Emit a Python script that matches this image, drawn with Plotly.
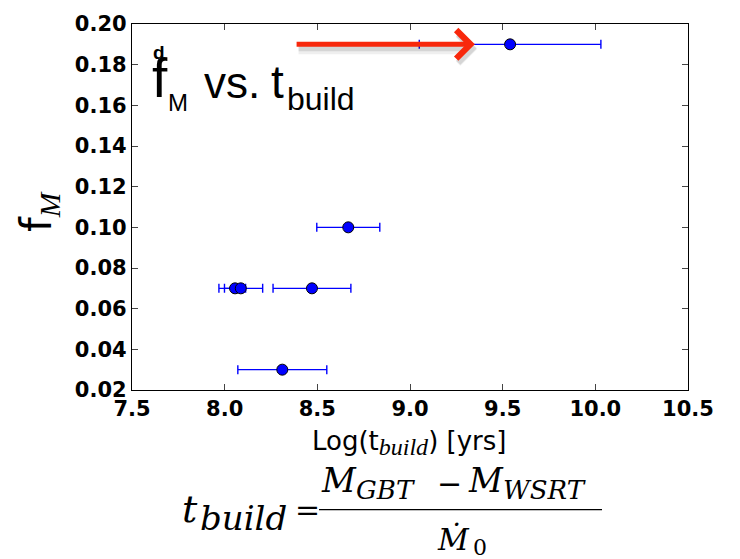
import plotly.graph_objects as go

# Build time (log years) with symmetric uncertainties, and the mass fraction f_M
log_t_build = [9.54, 8.667, 8.471, 8.056, 8.087, 8.311]
log_t_err = [0.49, 0.17, 0.21, 0.057, 0.118, 0.24]
f_M = [0.19, 0.10, 0.07, 0.07, 0.07, 0.03]

x_ticks = [7.5, 8.0, 8.5, 9.0, 9.5, 10.0, 10.5]
y_ticks = [0.02, 0.04, 0.06, 0.08, 0.10, 0.12, 0.14, 0.16, 0.18, 0.20]

# arrow pointing at the top point: tail and head on the x axis
arrow_tail_x = 8.38
arrow_head_x = 9.35
arrow_y = 0.19

W, H = 740, 559
L, R, T, B = 132, 688, 20, 390  # plot frame in pixels


def px(xp):
    return (xp - L) / (R - L)


def py(yp):
    return (B - yp) / (B - T)


fig = go.Figure()
fig.add_trace(go.Scatter(
    x=log_t_build, y=f_M, mode="markers",
    marker=dict(color="#0000ff", size=11, line=dict(color="black", width=1)),
    error_x=dict(type="data", array=log_t_err, symmetric=True,
                 color="#0000ff", thickness=1.4, width=4.5),
    showlegend=False,
))

ann = []


def text_at(txt, x, baseline, size, family="Liberation Sans",
            style="normal", weight="normal", anchor="left", k=0.47):
    ann.append(dict(
        text=txt, xref="paper", yref="paper", showarrow=False,
        x=px(x), y=py(baseline - k * size),
        xanchor=anchor, yanchor="middle", borderpad=0,
        font=dict(family=family, size=size, color="black",
                  style=style, weight=weight),
    ))


# panel title
text_at("d", 152, 58, 19, weight="bold")
text_at("f", 151, 100, 55)
text_at("M", 167, 111, 24)
text_at("vs.", 203, 100, 44)
text_at("t", 270, 100, 46)
text_at("build", 286, 111, 32)

# y axis title
ann.append(dict(
    text='f<sub><span style="font-family:\'Liberation Serif\';font-style:italic">M</span></sub>',
    xref="paper", yref="paper", showarrow=False,
    x=px(39), y=py(210), xanchor="center", yanchor="middle", textangle=-90,
    font=dict(family="DejaVu Sans", size=42, color="black"),
))

# x axis title
ann.append(dict(
    text='Log(t<sub><span style="font-family:\'Liberation Serif\';font-style:italic;font-size:24px">build</span></sub>) [yrs]',
    xref="paper", yref="paper", showarrow=False,
    x=px(409), y=py(444), xanchor="center", yanchor="middle",
    font=dict(family="DejaVu Sans", size=26, color="black"),
))

# definition of t_build
serif = "DejaVu Serif"
text_at("t", 190, 528, 38, family=serif, style="italic", anchor="center")
text_at("build", 243, 535, 34, family=serif, style="italic", anchor="center")
text_at("=", 307, 525, 30, family=serif, anchor="center")
text_at("M", 339, 497, 33, family=serif, style="italic", anchor="center")
text_at("GBT", 355, 503, 26, family=serif, style="italic")
text_at("\u2212", 449, 499, 30, family=serif, anchor="center")
text_at("M", 486, 497, 33, family=serif, style="italic", anchor="center")
text_at("WSRT", 502, 503, 26, family=serif, style="italic")
text_at("\u1e40", 453, 555, 30, family=serif, style="italic", anchor="center")
text_at("0", 480, 560, 22, family=serif, anchor="center")

# soft arrow shadow, then the arrow itself
arrows = [("rgba(0,0,0,0.06)", 2, -5, 10), ("rgba(0,0,0,0.10)", 2, -4, 6),
          ("#f8280c", 0, 0, 5)]
for color, xs, ys, w in arrows:
    ann.append(dict(
        x=arrow_head_x, y=arrow_y, ax=arrow_tail_x, ay=arrow_y,
        xref="x", yref="y", axref="x", ayref="y",
        showarrow=True, arrowhead=4, arrowsize=5.5 / w, arrowwidth=w,
        arrowcolor=color, text="", standoff=0, xshift=xs, yshift=ys,
    ))

fig.update_layout(
    width=W, height=H,
    margin=dict(l=L, r=W - R, t=T, b=H - B, pad=0),
    paper_bgcolor="white", plot_bgcolor="white",
    annotations=ann,
    shapes=[dict(type="line", xref="paper", yref="paper",
                 x0=px(319), x1=px(602), y0=py(511), y1=py(511),
                 line=dict(color="black", width=1.3))],
)

axis_common = dict(
    showgrid=False, zeroline=False, showline=True, linecolor="black",
    linewidth=1.2, mirror="ticks", ticks="inside", ticklen=6,
    tickcolor="#444", tickwidth=1,
    tickfont=dict(family="DejaVu Sans", size=21, color="black", weight="bold"),
)
fig.update_xaxes(range=[7.5, 10.5], tickvals=x_ticks,
                 ticktext=[f"{v:.1f}" for v in x_ticks], **axis_common)
fig.update_yaxes(range=[0.02, 0.20], tickvals=y_ticks,
                 ticktext=[f"{v:.2f}" for v in y_ticks], **axis_common)

fig.write_html("out.html")
